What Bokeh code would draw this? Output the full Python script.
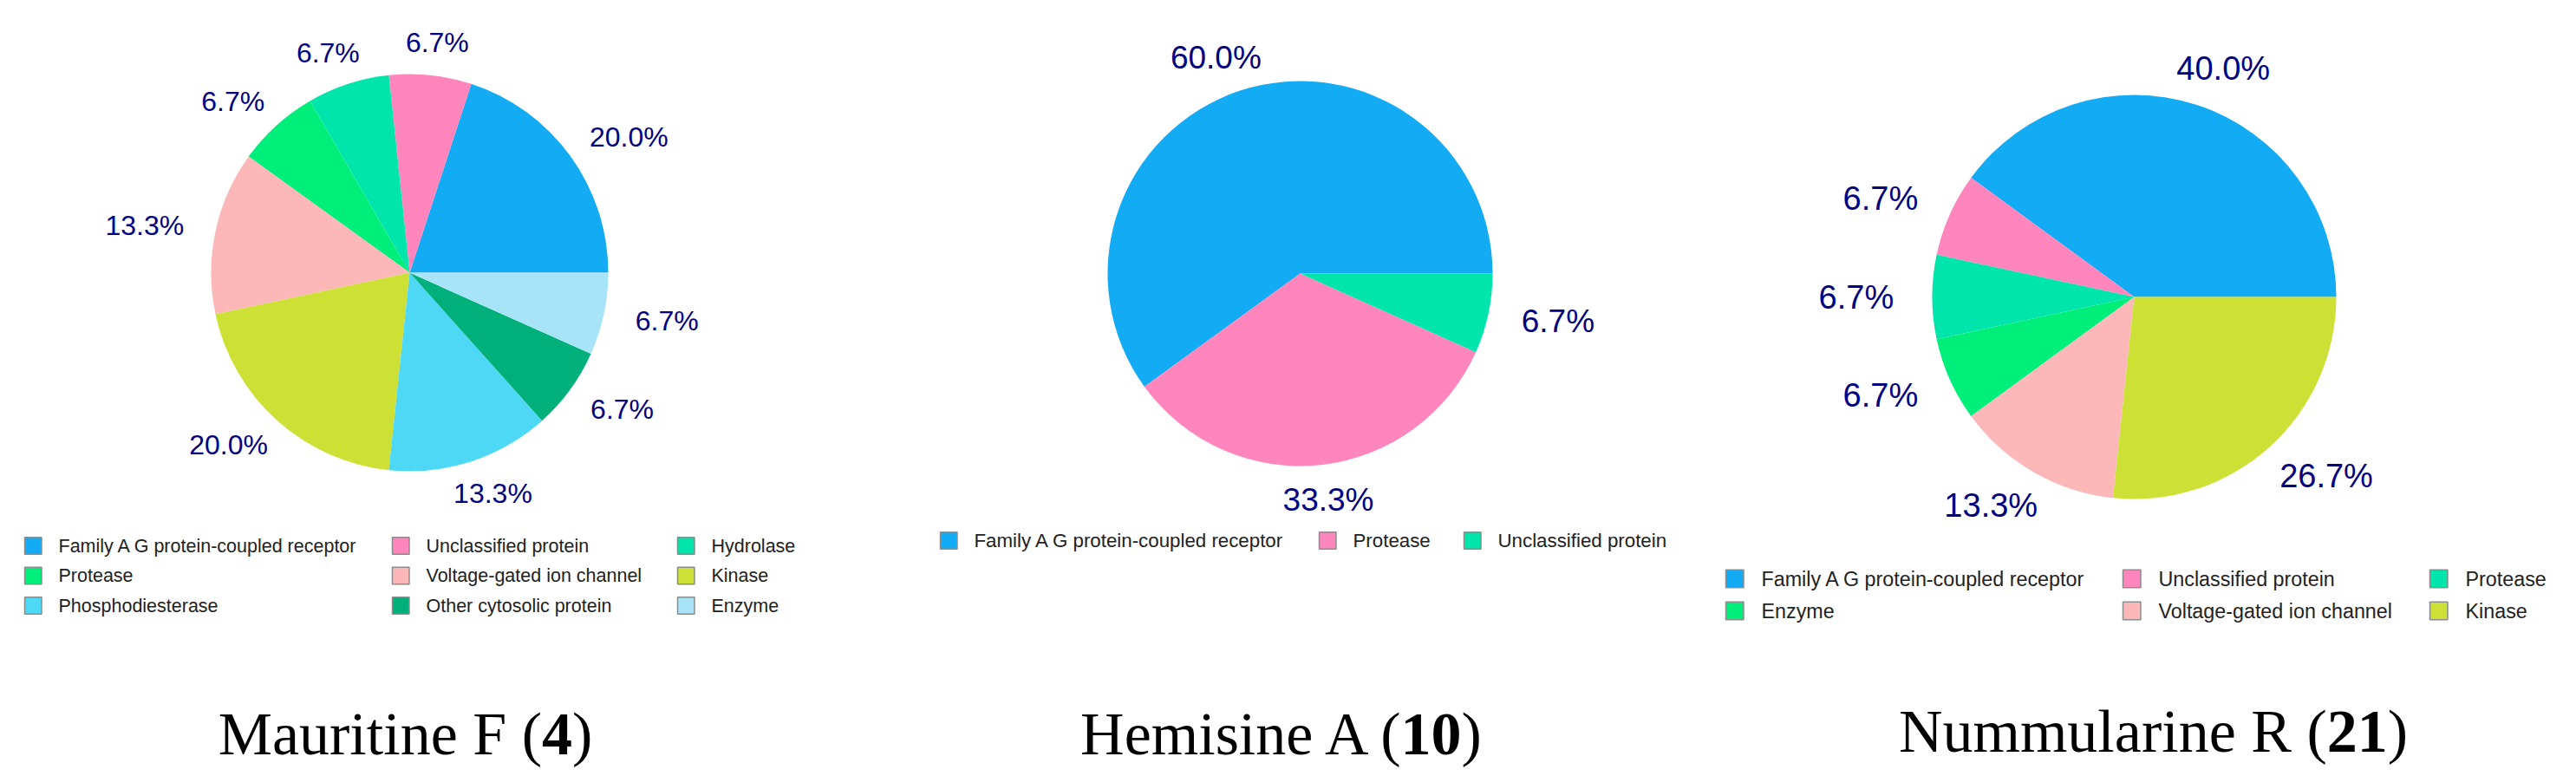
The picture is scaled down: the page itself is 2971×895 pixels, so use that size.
import math
from bokeh.plotting import figure
from bokeh.models import Range1d
from bokeh.core.properties import value
from bokeh.embed import file_html
from bokeh.resources import INLINE

# ---------------- data ----------------
mauritine_cats = ["Family A G protein-coupled receptor", "Unclassified protein", "Hydrolase",
                  "Protease", "Voltage-gated ion channel", "Kinase", "Phosphodiesterase",
                  "Other cytosolic protein", "Enzyme"]
mauritine_vals = [20.0, 6.7, 6.7, 6.7, 13.3, 20.0, 13.3, 6.7, 6.7]

hemisine_cats = ["Family A G protein-coupled receptor", "Protease", "Unclassified protein"]
hemisine_vals = [60.0, 33.3, 6.7]

nummularine_cats = ["Family A G protein-coupled receptor", "Unclassified protein", "Protease",
                    "Enzyme", "Voltage-gated ion channel", "Kinase"]
nummularine_vals = [40.0, 6.7, 6.7, 6.7, 13.3, 26.7]

palette = ["#14ABF5", "#FF85BD", "#00E5AC", "#00EE7A", "#FCB8B8",
           "#CCE035", "#4DD9F5", "#00B07A", "#A8E4F8"]

title_names = ["Mauritine F (", "Hemisine A (", "Nummularine R ("]
title_numbers = ["4", "10", "21"]

# ---------------- layout (reference pixel space) ----------------
panels = [
    dict(cats=mauritine_cats, vals=mauritine_vals, cx=472, cy=314, r=229, kr=1.166, fs=32,
         ncols=3, col_x=[28, 452, 781], row_y0=629, row_dy=34.5, lfs=21.5, sq=19.5,
         title_cx=467, title_mid=846),
    dict(cats=hemisine_cats, vals=hemisine_vals, cx=1499, cy=315, r=222, kr=1.18, fs=37,
         ncols=3, col_x=[1084, 1521, 1688], row_y0=623, row_dy=36, lfs=22.3, sq=19.5,
         title_cx=1477, title_mid=846),
    dict(cats=nummularine_cats, vals=nummularine_vals, cx=2461, cy=342, r=233, kr=1.19, fs=38,
         ncols=3, col_x=[1990, 2448, 2802], row_y0=667, row_dy=37, lfs=23.3, sq=20.5,
         title_cx=2483, title_mid=843),
]

# Bokeh's page template removes the body margin, so the figure starts at (0, 0)
W, H = 2971, 895


def Y(y_ref):
    return H - y_ref


ARIAL = {"0": .556, "1": .556, "2": .556, "3": .556, "4": .556, "5": .556, "6": .556,
         "7": .556, "8": .556, "9": .556, ".": .278, "%": .889}
TIMES = {"M": .889, "a": .444, "u": .5, "r": .333, "i": .278, "t": .278, "n": .5, "e": .444,
         " ": .25, "F": .556, "(": .333, ")": .333, "H": .722, "m": .778, "s": .389,
         "A": .722, "N": .722, "l": .278, "R": .667}
TIMES_KERN = {"A ": -.055, " A": -.055}


def width(s, size, table, default=.5, kern=None):
    w = sum(table.get(c, default) for c in s)
    if kern:
        w += sum(kern.get(s[i:i + 2], 0) for i in range(len(s) - 1))
    return w * size


p = figure(width=W, height=H, x_range=Range1d(0, W), y_range=Range1d(0, H),
           output_backend="svg", toolbar_location=None, min_border=0,
           x_axis_location=None, y_axis_location=None)
p.grid.visible = False
p.outline_line_color = None
p.background_fill_color = "white"

for k, pan in enumerate(panels):
    vals = pan["vals"]
    total = sum(vals)
    starts, ends, colors = [], [], []
    acc = 0.0
    for i, v in enumerate(vals):
        a0 = acc / total * 2 * math.pi
        acc += v
        a1 = acc / total * 2 * math.pi
        starts.append(a0)
        ends.append(a1)
        colors.append(palette[i])
    n = len(vals)
    p.wedge(x=[pan["cx"]] * n, y=[Y(pan["cy"])] * n, radius=pan["r"],
            start_angle=starts, end_angle=ends, direction="anticlock",
            fill_color=colors, line_color=None)

    # percentage labels
    lx, ly, lt = [], [], []
    for v, a0, a1 in zip(vals, starts, ends):
        mid = (a0 + a1) / 2
        txt = f"{v:.1f}%"
        w = width(txt, pan["fs"], ARIAL)
        rr = pan["kr"] * pan["r"]
        lx.append(pan["cx"] + (rr + w / 2) * math.cos(mid))
        ly.append(Y(pan["cy"]) + rr * math.sin(mid))
        lt.append(txt)
    p.text(x=lx, y=ly, text=lt, text_align="center", text_baseline="middle",
           text_font=value("Liberation Sans"), text_font_size=f"{pan['fs']}px",
           text_color="#000080")

    # legend
    sx, sy, tx, tt = [], [], [], []
    for i, c in enumerate(pan["cats"]):
        col = i % pan["ncols"]
        row = i // pan["ncols"]
        x0 = pan["col_x"][col]
        yc = pan["row_y0"] + row * pan["row_dy"]
        sx.append(x0 + pan["sq"] / 2)
        sy.append(Y(yc))
        tx.append(x0 + pan["sq"] * 2.0)
        tt.append(c)
    p.rect(x=sx, y=sy, width=pan["sq"], height=pan["sq"], fill_color=palette[:n],
           line_color="#8C8C8C", line_width=1.5)
    p.text(x=tx, y=sy, text=tt, text_align="left", text_baseline="middle",
           text_font=value("Liberation Sans"), text_font_size=f"{pan['lfs']}px",
           text_color="#222222")

    # title with bold compound number
    tfs = 70
    pre, num, post = title_names[k], title_numbers[k], ")"
    wpre = width(pre, tfs, TIMES, kern=TIMES_KERN)
    wnum = width(num, tfs, {}, .5)
    wpost = width(post, tfs, TIMES)
    left = pan["title_cx"] - (wpre + wnum + wpost) / 2
    ym = Y(pan["title_mid"])
    for xx, tx_, style in [(left, pre, "normal"), (left + wpre, num, "bold"),
                           (left + wpre + wnum, post, "normal")]:
        p.text(x=[xx], y=[ym], text=[tx_], text_align="left", text_baseline="middle",
               text_font=value("Liberation Serif"), text_font_size=f"{tfs}px",
               text_font_style=style, text_color="black")

open("out.html", "w").write(file_html(p, INLINE))
